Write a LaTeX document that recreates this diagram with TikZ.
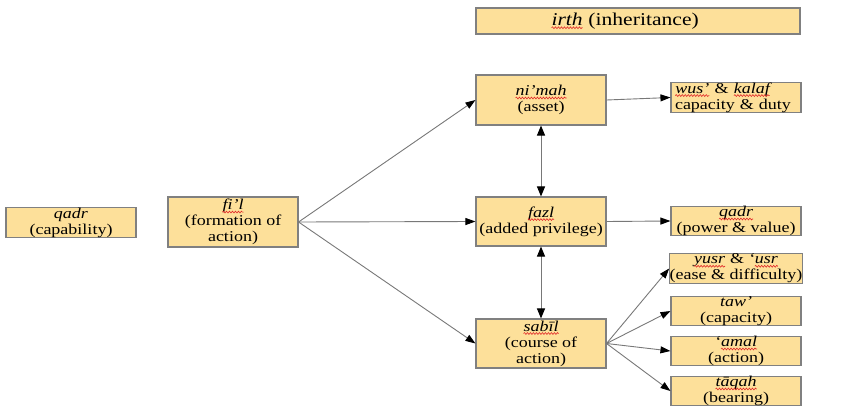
\documentclass[tikz,border=0pt]{standalone}
\usepackage{fontspec}
\setmainfont[FakeStretch=1.2]{Liberation Serif}
\usetikzlibrary{arrows.meta,decorations.pathmorphing}
\definecolor{boxfill}{RGB}{253,224,154}
\definecolor{boxline}{RGB}{128,128,128}
\definecolor{arrowc}{RGB}{120,120,120}
\definecolor{wavec}{RGB}{225,40,40}
\newcommand\sq[1]{\tikz[baseline=(w.base),x=1cm,y=1cm]{\node[draw=none,fill=none,minimum width=0pt,minimum height=0pt,inner sep=0pt,outer sep=0pt] (w) {\itshape #1};
  \draw[wavec, line width=0.6pt, decorate, decoration={snake,amplitude=0.9pt,segment length=3pt}] ([yshift=-2.4pt]w.base west) -- ([yshift=-2.4pt]w.base east);}}
\begin{document}
\begin{tikzpicture}[x=1pt,y=-1pt,
  box/.style={draw=boxline, line width=1.1pt, fill=boxfill, minimum width=130pt, inner sep=0pt, align=center, font=\fontsize{15}{16}\selectfont},
  conn/.style={draw=arrowc, line width=0.9pt, -{Triangle[length=10pt,width=7pt,color=black]}},
  dconn/.style={draw=arrowc, line width=1pt, {Triangle[length=10pt,width=8pt,color=black]}-{Triangle[length=10pt,width=8pt,color=black]}}]
\useasboundingbox (0,0) rectangle (843,406);
\node[box, minimum height=27pt] (qadra) at (71,222.5) {\textit{qadr}\\(capability)};
\node[box, minimum height=50pt] (fil) at (233,222) {\sq{fi’l}\\(formation of\\action)};
\node[box, minimum width=324pt, minimum height=26pt, font=\fontsize{18}{20}\selectfont] (irth) at (638,21) {\sq{irth} (inheritance)\hspace*{26pt}};
\node[box, minimum height=50pt] (nimah) at (541,100) {\sq{ni’mah}\\(asset)};
\node[box, minimum height=27pt, align=left, text width=122pt] (wus) at (736,97.5) {\sq{wus’} \& \sq{kalaf}\\capacity \& duty};
\node[box, minimum height=49pt] (fazl) at (541,221.5) {\sq{fazl}\\(added privilege)};
\node[box, minimum height=26pt] (qadrb) at (736,221) {\sq{qadr}\\(power \& value)};
\node[box, minimum height=49pt] (sabil) at (541,343.5) {\sq{sabīl}\\(course of\\action)};
\node[box, minimum height=27pt] (yusr) at (736,268.5) {\sq{yusr} \& \textit{‘}\sq{usr}\\(ease \& difficulty)};
\node[box, minimum height=26pt] (taw) at (736,311) {\textit{taw’}\\(capacity)};
\node[box, minimum height=26pt] (amal) at (736,351) {\textit{‘}\sq{amal}\\(action)};
\node[box, minimum height=26pt] (taqah) at (736,391) {\sq{tāqah}\\(bearing)};
\draw[conn] (fil.east) -- (nimah.west);
\draw[conn] (fil.east) -- (fazl.west);
\draw[conn] (fil.east) -- (sabil.west);
\draw[conn] (nimah.east) -- (wus.west);
\draw[conn] (fazl.east) -- (qadrb.west);
\draw[conn] (sabil.east) -- (yusr.west);
\draw[conn] (sabil.east) -- (taw.west);
\draw[conn] (sabil.east) -- (amal.west);
\draw[conn] (sabil.east) -- (taqah.west);
\draw[dconn] (nimah.south) -- (fazl.north);
\draw[dconn] (fazl.south) -- (sabil.north);
\end{tikzpicture}
\end{document}
